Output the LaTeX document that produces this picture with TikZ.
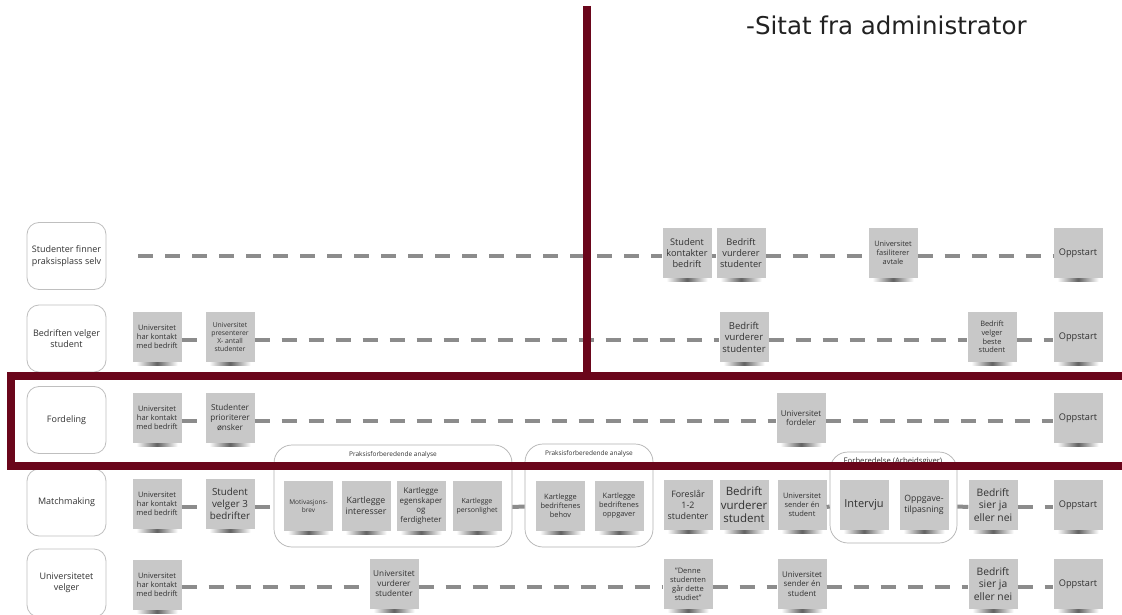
\documentclass[tikz,border=0pt]{standalone}
\usepackage{fontspec}
\setmainfont{Open Sans}
\newfontfamily\quotefont{DejaVu Sans}
\usetikzlibrary{calc}
\definecolor{notegray}{RGB}{200,200,200}
\definecolor{barred}{RGB}{106,6,27}
\definecolor{dashgray}{RGB}{140,140,140}
\definecolor{txtgray}{RGB}{50,50,50}
\begin{document}
\begin{tikzpicture}[x=1pt,y=-1pt,
 lane/.style={draw=black!25, line width=0.8pt, rounded corners=12pt, fill=white, minimum width=79pt, minimum height=67pt, align=center, text=txtgray, font=\fontsize{9}{11.5}\selectfont, inner sep=1pt},
 stk/.style={fill=notegray, minimum width=49pt, minimum height=50pt, inner sep=0.5pt, align=center, text=txtgray},
 fs/.style 2 args={font=\fontsize{#1}{#2}\selectfont},
 grp/.style={draw=black!30, line width=0.7pt, rounded corners=18pt, fill=white},
 gtitle/.style={inner sep=0pt, text=txtgray},
 dl/.style={draw=dashgray, line width=4pt, dash pattern=on 15pt off 12pt},
 bar/.style={draw=barred, line width=8pt}
]
\useasboundingbox[fill=white] (0,0) rectangle (1122,615);

% quote
\node[anchor=base west, inner sep=0pt, text=black!87, font=\quotefont\fontsize{24.5}{28}\selectfont] (quote) at (746,35) {-Sitat fra administrator};

% lane labels
\node[lane] (l1) at (66.5,256) {Studenter finner\\praksisplass selv};
\node[lane] (l2) at (66.5,338.5) {Bedriften velger\\student};
\node[lane] (l3) at (66.5,420) {Fordeling};
\node[lane] (l4) at (66.5,502.5) {Matchmaking};
\node[lane, minimum height=68pt] (l5) at (66.5,583) {Universitetet\\velger};

% groups
\node[grp, minimum width=238pt, minimum height=102pt] (g1) at (393,496) {};
\node[grp, minimum width=128pt, minimum height=103pt] (g2) at (589,495.5) {};
\node[grp, minimum width=127pt, minimum height=91pt] (g3) at (893.5,497.5) {};
\node[gtitle, fs={6.5}{8}] (g1t) at (393,455) {Praksisforberedende analyse};
\node[gtitle, fs={6.5}{8}] (g2t) at (589,454) {Praksisforberedende analyse};
\node[gtitle, fs={7.7}{9}] (g3t) at (893,461) {Forberedelse (Arbeidsgiver)};

% row 1
\coordinate (r1s) at (138,256);
\node[stk, fs={9.2}{11}] (r1a) at (687,253) {Student\\kontakter\\bedrift};
\node[stk, fs={9.2}{11}] (r1b) at (741,253) {Bedrift\\vurderer\\studenter};
\node[stk, fs={7.4}{9}] (r1c) at (893,253) {Universitet\\fasiliterer\\avtale};
\node[stk, fs={9.2}{11}] (r1d) at (1078,253) {Oppstart};

% row 2
\node[stk, fs={7.5}{9.2}] (r2a) at (157,337) {Universitet\\har kontakt\\med bedrift};
\node[stk, fs={6.8}{8.3}] (r2b) at (230,337) {Universitet\\presenterer\\X- antall\\studenter};
\node[stk, fs={9.5}{11.5}] (r2c) at (744,337) {Bedrift\\vurderer\\studenter};
\node[stk, fs={7.4}{8.8}] (r2d) at (992,337) {Bedrift\\velger\\beste\\student};
\node[stk, fs={9.2}{11}] (r2e) at (1078,337) {Oppstart};

% row 3
\node[stk, fs={7.5}{9.2}] (r3a) at (157,418) {Universitet\\har kontakt\\med bedrift};
\node[stk, fs={8.2}{10}] (r3b) at (230,418) {Studenter\\prioriterer\\ønsker};
\node[stk, fs={8}{9.6}] (r3c) at (801,418) {Universitet\\fordeler};
\node[stk, fs={9.2}{11}] (r3d) at (1078,418) {Oppstart};

% row 4
\node[stk, fs={7.5}{9.2}] (r4a) at (157,504) {Universitet\\har kontakt\\med bedrift};
\node[stk, fs={9.8}{12}] (r4b) at (230,504) {Student\\velger 3\\bedrifter};
\node[stk, fs={6.5}{8}] (r4c) at (308.5,506) {Motivasjons-\\brev};
\node[stk, fs={8.8}{10.8}] (r4d) at (366,506) {Kartlegge\\interesser};
\node[stk, fs={7.9}{9.5}] (r4e) at (421,506) {Kartlegge\\egenskaper\\og\\ferdigheter};
\node[stk, fs={7}{8.5}] (r4f) at (477,506) {Kartlegge\\personlighet};
\node[stk, fs={7.4}{9}] (r4g) at (560.5,506) {Kartlegge\\bedriftenes\\behov};
\node[stk, fs={7.4}{9}] (r4h) at (619,506) {Kartlegge\\bedriftenes\\oppgaver};
\node[stk, fs={8.9}{10.8}] (r4i) at (688,505) {Foreslår\\1-2\\studenter};
\node[stk, fs={11.5}{13.5}] (r4j) at (744,505) {Bedrift\\vurderer\\student};
\node[stk, fs={7.5}{9}] (r4k) at (802,505) {Universitet\\sender én\\student};
\node[stk, fs={11}{13}] (r4l) at (864,505) {Intervju};
\node[stk, fs={8.7}{10.4}] (r4m) at (924,505) {Oppgave-\\tilpasning};
\node[stk, fs={10.3}{12.3}] (r4n) at (993,505) {Bedrift\\sier ja\\eller nei};
\node[stk, fs={9.2}{11}] (r4o) at (1078,505) {Oppstart};

% row 5
\node[stk, fs={7.5}{9.2}] (r5a) at (157,585) {Universitet\\har kontakt\\med bedrift};
\node[stk, fs={8.2}{10}] (r5b) at (394,584) {Universitet\\vurderer\\studenter};
\node[stk, fs={7.5}{9}] (r5c) at (688,584) {"Denne\\studenten\\går dette\\studiet"};
\node[stk, fs={7.9}{9.6}] (r5d) at (802,584) {Universitet\\sender én\\student};
\node[stk, fs={10.3}{12.3}] (r5e) at (993,584) {Bedrift\\sier ja\\eller nei};
\node[stk, fs={9.2}{11}] (r5f) at (1078,584) {Oppstart};

% shadows under notes
\foreach \n in {r1a,r1b,r1c,r1d,r2a,r2b,r2c,r2d,r2e,r3a,r3b,r3c,r3d,
  r4a,r4b,r4c,r4d,r4e,r4f,r4g,r4h,r4i,r4j,r4k,r4l,r4m,r4n,r4o,
  r5a,r5b,r5c,r5d,r5e,r5f}
  \shade[left color=white, right color=white, middle color=black!62]
    ($(\n.south west)+(4,0.3)$) rectangle ($(\n.south east)+(-4,3)$);

% connectors
\begin{scope}[dl]
\draw (r1s) -- ([yshift=-3pt]r1a.west);
\draw ([yshift=-3pt]r1a.east) -- ([yshift=-3pt]r1b.west);
\draw ([yshift=-3pt]r1b.east) -- ([yshift=-3pt]r1c.west);
\draw ([yshift=-3pt]r1c.east) -- ([yshift=-3pt]r1d.west);
\draw ([yshift=-3pt]r2a.east) -- ([yshift=-3pt]r2b.west);
\draw ([yshift=-3pt]r2b.east) -- ([yshift=-3pt]r2c.west);
\draw ([yshift=-3pt]r2c.east) -- ([yshift=-3pt]r2d.west);
\draw ([yshift=-3pt]r2d.east) -- ([yshift=-3pt]r2e.west);
\draw ([yshift=-3pt]r3a.east) -- ([yshift=-3pt]r3b.west);
\draw ([yshift=-3pt]r3b.east) -- ([yshift=-3pt]r3c.west);
\draw ([yshift=-3pt]r3c.east) -- ([yshift=-3pt]r3d.west);
\draw ([yshift=-3pt]r4a.east) -- ([yshift=-3pt]r4b.west);
\draw ([yshift=-3pt]r4b.east) -- ([yshift=-11pt]g1.west);
\draw ([yshift=-11pt]g1.east) -- ([yshift=-11pt]g2.west);
\draw ([yshift=-2pt]r4k.east) -- ([yshift=-9pt]g3.west);
\draw ([yshift=-9pt]g3.east) -- ([yshift=-2pt]r4n.west);
\draw ([yshift=-2pt]r4n.east) -- ([yshift=-2pt]r4o.west);
\draw ([yshift=-2pt]r5a.east) -- ([yshift=-3pt]r5b.west);
\draw ([yshift=-3pt]r5b.east) -- ([yshift=-3pt]r5c.west);
\draw ([yshift=-3pt]r5c.east) -- ([yshift=-3pt]r5d.west);
\draw ([yshift=-3pt]r5d.east) -- ([yshift=-3pt]r5e.west);
\draw ([yshift=-3pt]r5e.east) -- ([yshift=-3pt]r5f.west);
\end{scope}

% red emphasis
\draw[bar] (587,6) -- (587,376);
\draw[bar, line join=miter] (1130,376) -| (10.8,466) -- (1130,466);
\end{tikzpicture}
\end{document}
